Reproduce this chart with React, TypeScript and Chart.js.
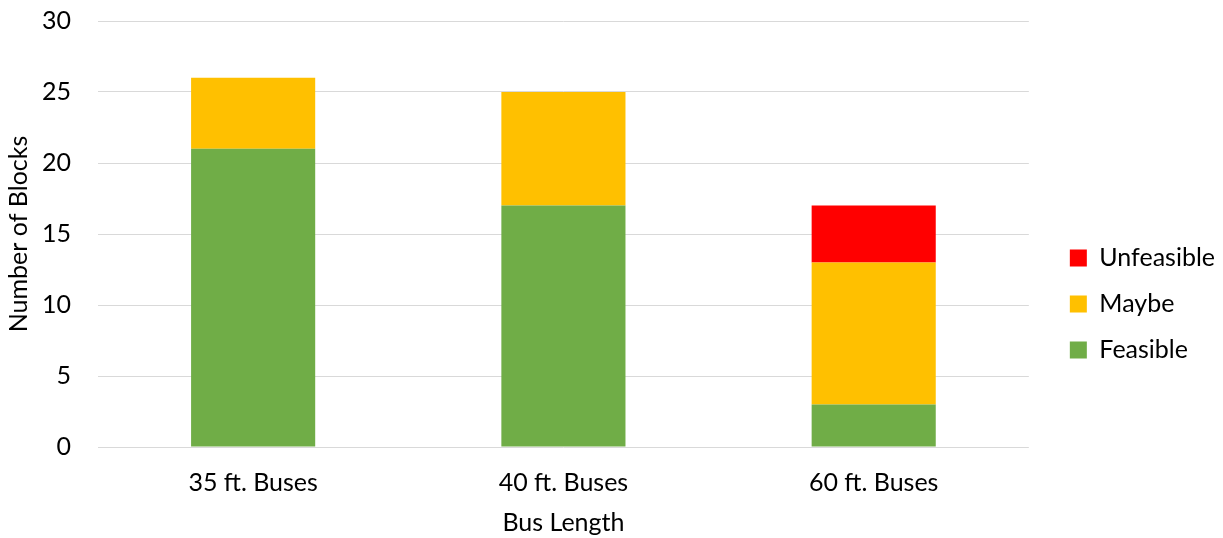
import { useEffect, useRef } from "react";
import { Chart, registerables } from "chart.js";

Chart.register(...registerables);

// Block feasibility by bus length
const categories = ["35 ft. Buses", "40 ft. Buses", "60 ft. Buses"];
const feasible = [21, 17, 3];
const maybe = [5, 8, 10];
const unfeasible = [null, null, 4];

const yMax = 30;
const yStep = 5;

const FONT_FAMILY = "Lato, 'Noto Sans', sans-serif";
const FONT_SIZE = 25;
const TEXT_COLOR = "#000000";
const GRID_COLOR = "#d9d9d9";

const LEGEND_PAD = 21;
const LEGEND_GAP = 41; // plot edge to legend swatches
const LEGEND_CENTER_Y = 304;

// Places the legend block a little away from the plot and lower on the canvas.
const legendPlacement = {
  id: "legendPlacement",
  afterLayout(chart: any) {
    const lg = chart.legend;
    if (!lg) return;
    const w = lg.right - lg.left;
    const h = lg.bottom - lg.top;
    lg.left = chart.chartArea.right + LEGEND_GAP - LEGEND_PAD;
    lg.right = lg.left + w;
    lg.top = LEGEND_CENTER_Y - h / 2;
    lg.bottom = lg.top + h;
  },
};

export default function App() {
  const canvasRef = useRef<HTMLCanvasElement | null>(null);

  useEffect(() => {
    if (!canvasRef.current) return;
    const font = { family: FONT_FAMILY, size: FONT_SIZE };
    const chart = new Chart(canvasRef.current, {
      type: "bar",
      data: {
        labels: categories,
        datasets: [
          { label: "Feasible", data: feasible, backgroundColor: "#70ad47" },
          { label: "Maybe", data: maybe, backgroundColor: "#ffc000" },
          { label: "Unfeasible", data: unfeasible as any, backgroundColor: "#ff0000" },
        ],
      },
      options: {
        responsive: true,
        maintainAspectRatio: false,
        animation: false,
        datasets: { bar: { categoryPercentage: 1, barPercentage: 0.4, borderWidth: 0 } },
        layout: { padding: { top: 21, left: 0, right: 18, bottom: 0 } },
        plugins: {
          tooltip: { enabled: false },
          legend: {
            position: "right",
            fullSize: false,
            reverse: true,
            labels: {
              boxWidth: 17,
              boxHeight: 17,
              padding: LEGEND_PAD,
              color: TEXT_COLOR,
              font,
            },
          },
        },
        scales: {
          x: {
            stacked: true,
            grid: { display: false, drawTicks: true, tickLength: 21 },
            border: { display: false },
            ticks: { color: TEXT_COLOR, font, padding: 0 },
            title: {
              display: true,
              text: "Bus Length",
              color: TEXT_COLOR,
              font,
              padding: { top: 10, bottom: 0 },
            },
          },
          y: {
            stacked: true,
            min: 0,
            max: yMax,
            grid: {
              color: GRID_COLOR,
              lineWidth: 1,
              drawTicks: true,
              tickLength: 27,
              tickColor: "rgba(0,0,0,0)",
            },
            border: { display: false },
            ticks: { stepSize: yStep, color: TEXT_COLOR, font, padding: 0 },
            title: {
              display: true,
              text: "Number of Blocks",
              color: TEXT_COLOR,
              font,
              padding: { top: 4, bottom: 8 },
            },
          },
        },
      },
      plugins: [legendPlacement],
    });
    return () => chart.destroy();
  }, []);

  return (
    <div style={{ position: "absolute", left: 0, top: 0, width: 1223, height: 538, background: "#fff" }}>
      <canvas ref={canvasRef} />
    </div>
  );
}
